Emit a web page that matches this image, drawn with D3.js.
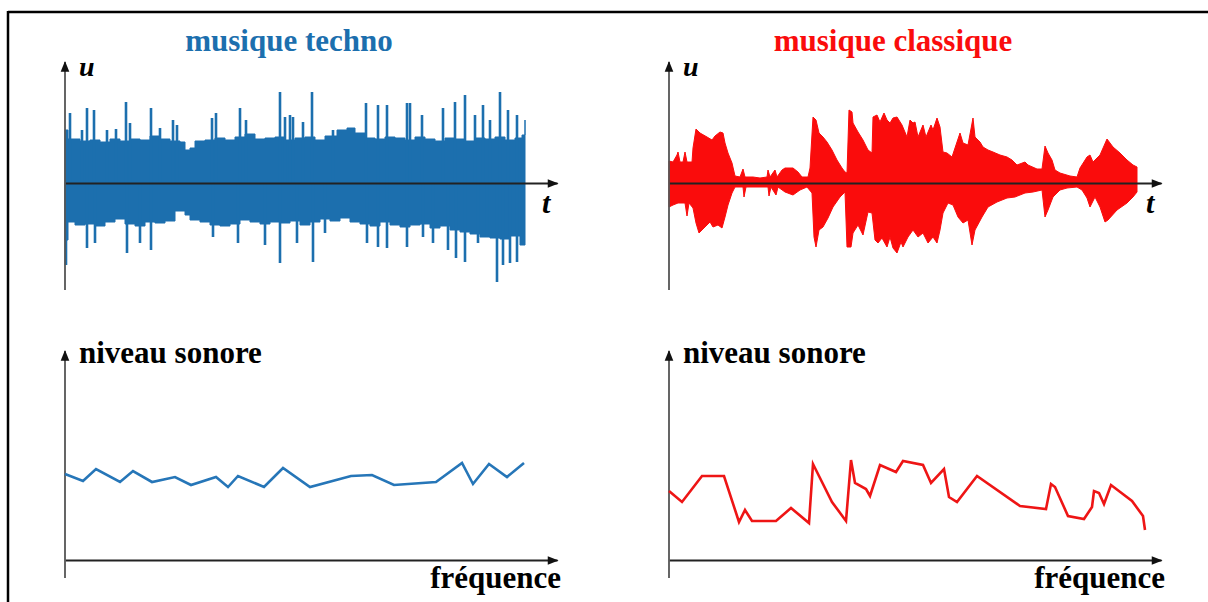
<!DOCTYPE html>
<html lang="fr">
<head>
<meta charset="utf-8">
<title>Musique techno / classique</title>
<script src="https://d3js.org/d3.v7.min.js"></script>
<style>
  body { margin: 0; background: #fff; }
  svg { display: block; }
  .title, .lab { font-family: "Liberation Serif", "Times New Roman", serif; font-weight: bold; }
  .var { font-family: "Liberation Serif", "Times New Roman", serif; font-weight: bold; font-style: italic; }
  .axis .domain { stroke: #555; stroke-width: 1.8; }
  .axis.h .domain { stroke: #222; }
</style>
</head>
<body>
<script>
// ---- data (t, u in arbitrary units; f, level arbitrary) ----

// techno signal: envelope of the waveform + isolated peaks
var technoTop = [[0,53],[3,44],[15,42],[25,43],[35,41],[45,44],[55,42],[65,44],[75,43],[85,47],[95,44],
  [105,42],[115,41],[120,33],[125,35],[130,42],[140,43],[150,45],[160,43],[170,46],[180,49],[190,44],
  [200,45],[210,46],[220,43],[230,45],[240,46],[250,43],[260,47],[272,53],[282,55],[290,50],[300,45],
  [310,44],[320,46],[330,45],[340,43],[350,46],[360,44],[370,42],[380,45],[390,44],[400,42],[410,45],
  [420,44],[430,46],[440,43],[450,45],[457,48],[460,63]];
var technoBottom = [[0,-57],[3,-57],[10,-39],[20,-42],[30,-41],[40,-43],[50,-39],[60,-36],[70,-41],[80,-43],
  [90,-39],[100,-40],[110,-38],[120,-28],[125,-32],[135,-37],[145,-39],[155,-42],[165,-43],[175,-41],
  [185,-37],[195,-39],[205,-41],[215,-39],[225,-40],[235,-38],[245,-42],[255,-39],[265,-36],[275,-38],
  [285,-35],[295,-39],[305,-41],[315,-43],[325,-39],[335,-42],[345,-44],[355,-42],[365,-41],[375,-45],
  [385,-43],[395,-47],[405,-49],[415,-51],[425,-54],[435,-55],[445,-56],[455,-53],[460,-62]];
var technoPeaksUp = [[5,70],[17,53],[22,75],[29,73],[42,53],[51,54],[61,81],[65,60],[86,75],[95,55],
  [108,63],[112,58],[147,65],[151,70],[175,75],[181,63],[215,91],[220,66],[225,68],[228,66],[238,61],
  [247,91],[268,53],[301,80],[313,78],[322,78],[342,80],[345,80],[357,68],[378,75],[390,81],[400,88],
  [410,68],[418,78],[425,63],[435,91],[443,73],[452,68]];
var technoPeaksDown = [[1,-82],[22,-65],[30,-60],[62,-70],[75,-60],[86,-67],[148,-54],[173,-60],[200,-62],
  [215,-80],[232,-60],[248,-79],[260,-50],[302,-60],[313,-64],[322,-65],[342,-64],[358,-54],[368,-60],
  [383,-67],[391,-75],[400,-79],[413,-60],[422,-54],[432,-99],[438,-82],[445,-80],[452,-79]];

// classical signal: upper and lower envelope
var classicTop = [[0,22],[4,21],[8,28],[9,31],[11,21],[14,21],[16,31],[18,21],[23,21],[24,35],[27,54],[31,50],
  [38,46],[43,43],[46,47],[51,51],[54,50],[56,40],[59,30],[63,20],[66,7],[71,6],[74,14],[76,6],[84,6],
  [91,5],[98,6],[99,13],[101,6],[106,13],[108,6],[113,13],[116,15],[124,15],[129,11],[133,6],[139,6],
  [141,15],[144,66],[147,63],[150,50],[154,46],[158,41],[163,33],[168,23],[173,15],[176,11],[178,10],
  [180,73],[183,71],[184,60],[189,51],[194,43],[199,33],[203,30],[204,66],[208,68],[211,61],[215,70],
  [218,63],[221,60],[224,65],[228,66],[233,58],[238,46],[241,63],[244,60],[246,61],[249,46],[254,58],
  [257,46],[262,58],[264,53],[268,65],[271,56],[274,31],[278,30],[283,26],[286,35],[291,50],[294,40],
  [299,38],[304,65],[306,46],[311,41],[314,36],[319,33],[324,31],[331,28],[338,26],[343,23],[348,18],
  [356,21],[359,18],[368,14],[373,14],[376,37],[379,30],[383,23],[386,13],[391,10],[401,7],[408,6],
  [411,15],[418,26],[421,28],[424,21],[431,28],[438,44],[444,36],[451,30],[458,23],[464,18],[468,16]];
var classicBottom = [[0,-24],[4,-22],[9,-20],[16,-20],[18,-33],[20,-20],[24,-25],[27,-40],[30,-50],[36,-44],
  [41,-39],[44,-44],[49,-42],[53,-45],[56,-34],[59,-22],[63,-10],[66,-4],[74,-4],[75,-14],[77,-4],
  [91,-4],[99,-4],[100,-13],[102,-4],[107,-12],[109,-4],[116,-9],[124,-12],[131,-7],[138,-4],[143,-10],
  [145,-54],[147,-64],[150,-47],[154,-44],[159,-35],[164,-24],[171,-14],[176,-9],[178,-64],[182,-64],
  [184,-50],[189,-42],[194,-52],[199,-29],[203,-30],[206,-57],[209,-60],[213,-55],[218,-64],[221,-54],
  [224,-65],[228,-70],[232,-59],[234,-64],[239,-54],[244,-47],[249,-54],[254,-50],[259,-60],[264,-54],
  [268,-60],[271,-47],[274,-30],[279,-20],[284,-22],[289,-34],[294,-40],[299,-37],[303,-62],[306,-47],
  [313,-34],[319,-24],[328,-19],[338,-15],[346,-14],[356,-10],[364,-9],[373,-7],[376,-34],[379,-27],
  [384,-14],[391,-7],[398,-5],[408,-4],[413,-7],[418,-15],[421,-24],[426,-14],[431,-24],[436,-39],
  [439,-37],[448,-27],[458,-20],[464,-14],[468,-9]];

// spectra: [frequency, sound level]
var technoSpectrum = [[0,86],[18,79],[31,91],[55,78],[68,89],[87,78],[110,83],[126,75],[151,83],[163,73],
  [173,84],[199,73],[218,92],[245,73],[286,84],[307,85],[329,75],[371,78],[397,97],[408,76],[424,96],
  [442,83],[459,97]];
var classicSpectrum = [[0,69],[13,58],[33,84],[55,84],[70,38],[76,50],[83,39],[107,39],[122,52],[140,37],
  [144,96],[163,58],[177,39],[182,100],[186,77],[197,71],[201,64],[211,95],[227,88],[234,99],[254,95],
  [262,77],[275,91],[280,63],[288,58],[308,84],[351,54],[377,51],[382,76],[386,73],[399,44],[415,41],
  [423,53],[425,69],[430,67],[435,56],[442,75],[463,59],[474,44],[476,30]];

var titles = ["musique techno", "musique classique"];
var colors = ["#1c6fae", "#fa0c0c"];
var lineColors = ["#2676b8", "#ee1515"];

// ---- drawing ----
var W = 1208, H = 602;
var svg = d3.select("body").append("svg").attr("width", W).attr("height", H);

svg.append("defs").append("marker")
  .attr("id", "arrow").attr("viewBox", "0 0 10 10")
  .attr("refX", 9).attr("refY", 5)
  .attr("markerWidth", 7).attr("markerHeight", 6)
  .attr("markerUnits", "strokeWidth")
  .attr("orient", "auto")
  .append("path").attr("d", "M0,1 L10,5 L0,9 Z").attr("fill", "#111");

// frame
svg.append("line").attr("x1", 8).attr("y1", 12).attr("x2", W).attr("y2", 12)
  .attr("stroke", "#000").attr("stroke-width", 2.5);
svg.append("line").attr("x1", 8).attr("y1", 11).attr("x2", 8).attr("y2", H)
  .attr("stroke", "#000").attr("stroke-width", 2.5);

var panelX = [65, 669];

// signals u(t)
var signals = [
  {top: technoTop, bottom: technoBottom, up: technoPeaksUp, down: technoPeaksDown, curve: d3.curveStepAfter},
  {top: classicTop, bottom: classicBottom, up: [], down: [], curve: d3.curveLinear}
];

signals.forEach(function (s, i) {
  var x0 = panelX[i];
  var x = d3.scaleLinear().domain([0, 492]).range([x0, x0 + 492]);
  var y = d3.scaleLinear().domain([-107, 121]).range([290, 62]);
  var g = svg.append("g");

  var outline = s.top.concat(s.bottom.slice().reverse());
  g.append("path")
    .attr("d", d3.line().x(function (d) { return x(d[0]); }).y(function (d) { return y(d[1]); })
      .curve(s.curve)(outline) + "Z")
    .attr("fill", colors[i]).attr("stroke", colors[i]).attr("stroke-width", 1);

  g.selectAll("line.peak")
    .data(s.up.concat(s.down))
    .enter().append("line").attr("class", "peak")
    .attr("x1", function (d) { return x(d[0]); }).attr("x2", function (d) { return x(d[0]); })
    .attr("y1", y(0)).attr("y2", function (d) { return y(d[1]); })
    .attr("stroke", colors[i]).attr("stroke-width", 2.6);

  // axes (no ticks, arrow at the end)
  g.append("g").attr("class", "axis h")
    .attr("transform", "translate(0," + y(0) + ")")
    .call(d3.axisBottom(x).tickValues([]).tickSizeOuter(0))
    .select(".domain").attr("marker-end", "url(#arrow)");
  g.append("g").attr("class", "axis")
    .attr("transform", "translate(" + x0 + ",0)")
    .call(d3.axisLeft(y).tickValues([]).tickSizeOuter(0))
    .select(".domain").attr("d", "M0," + y.range()[0] + "V" + y.range()[1])
    .attr("marker-end", "url(#arrow)");

  g.append("text").attr("class", "title")
    .attr("x", x0 + 224).attr("y", 51).attr("text-anchor", "middle")
    .attr("font-size", 31).attr("fill", colors[i]).text(titles[i]);
  g.append("text").attr("class", "var")
    .attr("x", x0 + 14).attr("y", 76).attr("font-size", 28).text("u");
  g.append("text").attr("class", "var")
    .attr("x", x0 + 477).attr("y", 213).attr("font-size", 30).text("t");
});

// spectra
[technoSpectrum, classicSpectrum].forEach(function (data, i) {
  var x0 = panelX[i];
  var x = d3.scaleLinear().domain([0, 492]).range([x0, x0 + 492]);
  var y = d3.scaleLinear().domain([-18, 209]).range([578, 351]);
  var g = svg.append("g");

  g.append("g").attr("class", "axis h")
    .attr("transform", "translate(0," + y(0) + ")")
    .call(d3.axisBottom(x).tickValues([]).tickSizeOuter(0))
    .select(".domain").attr("marker-end", "url(#arrow)");
  g.append("g").attr("class", "axis")
    .attr("transform", "translate(" + x0 + ",0)")
    .call(d3.axisLeft(y).tickValues([]).tickSizeOuter(0))
    .select(".domain").attr("d", "M0," + y.range()[0] + "V" + y.range()[1])
    .attr("marker-end", "url(#arrow)");

  g.append("path")
    .datum(data)
    .attr("d", d3.line().x(function (d) { return x(d[0]); }).y(function (d) { return y(d[1]); }))
    .attr("fill", "none").attr("stroke", lineColors[i]).attr("stroke-width", 2.6)
    .attr("stroke-linejoin", "miter");

  g.append("text").attr("class", "lab")
    .attr("x", x0 + 14).attr("y", 363).attr("font-size", 31).text("niveau sonore");
  g.append("text").attr("class", "lab")
    .attr("x", x0 + 496).attr("y", 588).attr("text-anchor", "end")
    .attr("font-size", 31).text("fréquence");
});
</script>
</body>
</html>
